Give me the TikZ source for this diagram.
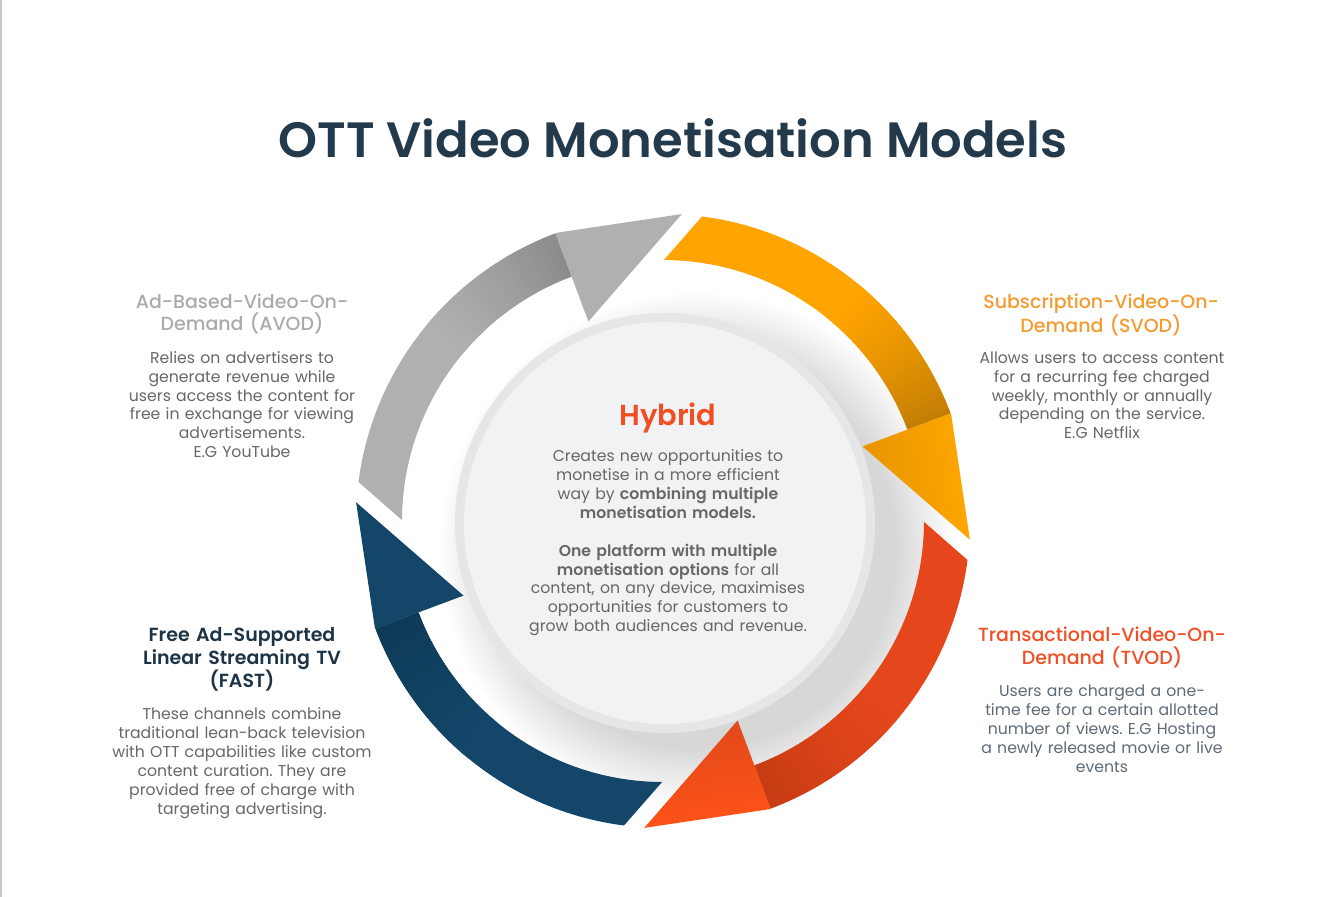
\documentclass[tikz,border=0pt]{standalone}
\usepackage{fontspec}
\setmainfont{Poppins}
\newfontfamily\pmed{Poppins Medium}
\newfontfamily\psemi{Poppins SemiBold}
\usetikzlibrary{calc}
\frenchspacing
\definecolor{titlec}{HTML}{233A4C}
\definecolor{bodyc}{HTML}{676767}
\definecolor{bodyb}{HTML}{5E6A76}
\definecolor{avodc}{HTML}{ABABAB}
\definecolor{svodc}{HTML}{F49B30}
\definecolor{tvodc}{HTML}{F04E23}
\definecolor{fastc}{HTML}{1D3447}
\definecolor{hybc}{HTML}{F04E23}
\definecolor{graym}{HTML}{B0B0B0}
\definecolor{grayd}{HTML}{8C8C8C}
\definecolor{orgm}{HTML}{FFA400}
\definecolor{orgd}{HTML}{C47E05}
\definecolor{orgl}{HTML}{FFA800}
\definecolor{orgh}{HTML}{E69300}
\definecolor{redm}{HTML}{E5461B}
\definecolor{redd}{HTML}{C63C14}
\definecolor{redl}{HTML}{FF5318}
\definecolor{redh}{HTML}{E0481A}
\definecolor{bluem}{HTML}{134669}
\definecolor{blued}{HTML}{0E3A57}
\definecolor{discrim}{HTML}{E5E6E8}
\definecolor{discfill}{HTML}{F0F2F3}
\newcommand\hb[1]{{\psemi #1}}
% #1 base angle, #2 main, #3 dark fold, #4 head outer colour, #5 head inner colour
\newcommand\ottseg[5]{%
  \fill[#2] ($(C)+(#1+62.2:307)$) arc[start angle=#1+62.2, end angle=#1, radius=307]
    -- ($(C)+(#1:261)$) arc[start angle=#1, end angle=#1+69.3, radius=261] -- cycle;
  \foreach \k in {0,...,23}{%
    \pgfmathsetmacro\pa{#1+\k*1.25}%
    \pgfmathsetmacro\pb{#1+\k*1.25+1.35}%
    \pgfmathtruncatemacro\pc{100*(1-\k/24)^1.3}%
    \fill[#3!\pc!#2] ($(C)+(\pa:307)$) arc[start angle=\pa, end angle=\pb, radius=307]
      -- ($(C)+(\pb:261)$) arc[start angle=\pb, end angle=\pa, radius=261] -- cycle;
  }%
  \pgfmathsetmacro\sa{#1+78}%
  \shade[top color=#5, bottom color=#4, shading angle=\sa]
    ($(C)+(#1:307.5)$) -- ($(C)+(#1-24:307.5)$) -- ($(C)+(#1:213)$) -- cycle;
}
\begin{document}
\begin{tikzpicture}[x=1pt,y=1pt,
  headtxt/.style={anchor=base, align=center, text width=300pt, inner sep=0pt, font=\pmed\fontsize{19}{22.5}\selectfont},
  bodytxt/.style={anchor=base, align=center, text width=330pt, inner sep=0pt, font=\fontsize{15.7}{18.9}\selectfont, text=bodyc}]
\useasboundingbox (0,0) rectangle (1342,897);
\fill[white] (0,0) rectangle (1342,897);
\draw[line width=1.2pt, color=black!22] (1,0) -- (1,897);
\coordinate (C) at (663,376);
\coordinate (D) at (665,374);
\coordinate (S) at (697,347);
% soft shadow of the disc
\foreach \i in {0,...,19}{\fill[black, opacity=0.009] (S) circle ({200+\i*3});}
% ring segments
\ottseg{110.5}{graym}{grayd}{graym}{graym}
\ottseg{20.5}{orgm}{orgd}{orgl}{orgh}
\ottseg{-69.5}{redm}{redd}{redl}{redh}
\ottseg{200.5}{bluem}{blued}{bluem}{bluem}
% central disc
\fill[discrim] (D) circle (210);
\fill[discfill] (D) circle (201);
% title
\node[anchor=base, inner sep=0pt, font=\psemi\fontsize{49.6}{56}\selectfont, text=titlec] (title) at (673,739) {OTT Video Monetisation Models};
% AVOD
\node[headtxt, text=avodc] (avodh) at (242,588.7) {Ad-Based-Video-On-\\Demand (AVOD)};
\node[bodytxt] (avodb) at (242,533.7) {Relies on advertisers to\\generate revenue while\\users access the content for\\free in exchange for viewing\\advertisements.\\E.G YouTube};
% SVOD
\node[headtxt, text=svodc] (svodh) at (1101,588.7) {Subscription-Video-On-\\Demand (SVOD)};
\node[bodytxt] (svodb) at (1102,533.7) {Allows users to access content\\for a recurring fee charged\\weekly, monthly or annually\\depending on the service.\\E.G Netflix};
% TVOD
\node[headtxt, text=tvodc] (tvodh) at (1102,255.3) {Transactional-Video-On-\\Demand (TVOD)};
\node[bodytxt, text=bodyb] (tvodb) at (1102,200.3) {Users are charged a one-\\time fee for a certain allotted\\number of views. E.G Hosting\\a newly released movie or live\\events};
% FAST
\node[headtxt, text=fastc, font=\psemi\fontsize{19}{22.5}\selectfont] (fasth) at (242,255.3) {Free Ad-Supported\\Linear Streaming TV\\(FAST)};
\node[bodytxt] (fastb) at (242,177) {These channels combine\\traditional lean-back television\\with OTT capabilities like custom\\content curation. They are\\provided free of charge with\\targeting advertising.};
% Hybrid
\node[anchor=base, inner sep=0pt, font=\psemi\fontsize{28.9}{34}\selectfont, text=hybc] (hyb) at (668,471) {Hybrid};
\node[bodytxt] (hybb) at (668,435.3) {Creates new opportunities to\\monetise in a more efficient\\way by \hb{combining multiple}\\\hb{monetisation models.}\\[18.9pt]\hb{One platform with multiple}\\\hb{monetisation options} for all\\content, on any device, maximises\\opportunities for customers to\\grow both audiences and revenue.};
\end{tikzpicture}
\end{document}
